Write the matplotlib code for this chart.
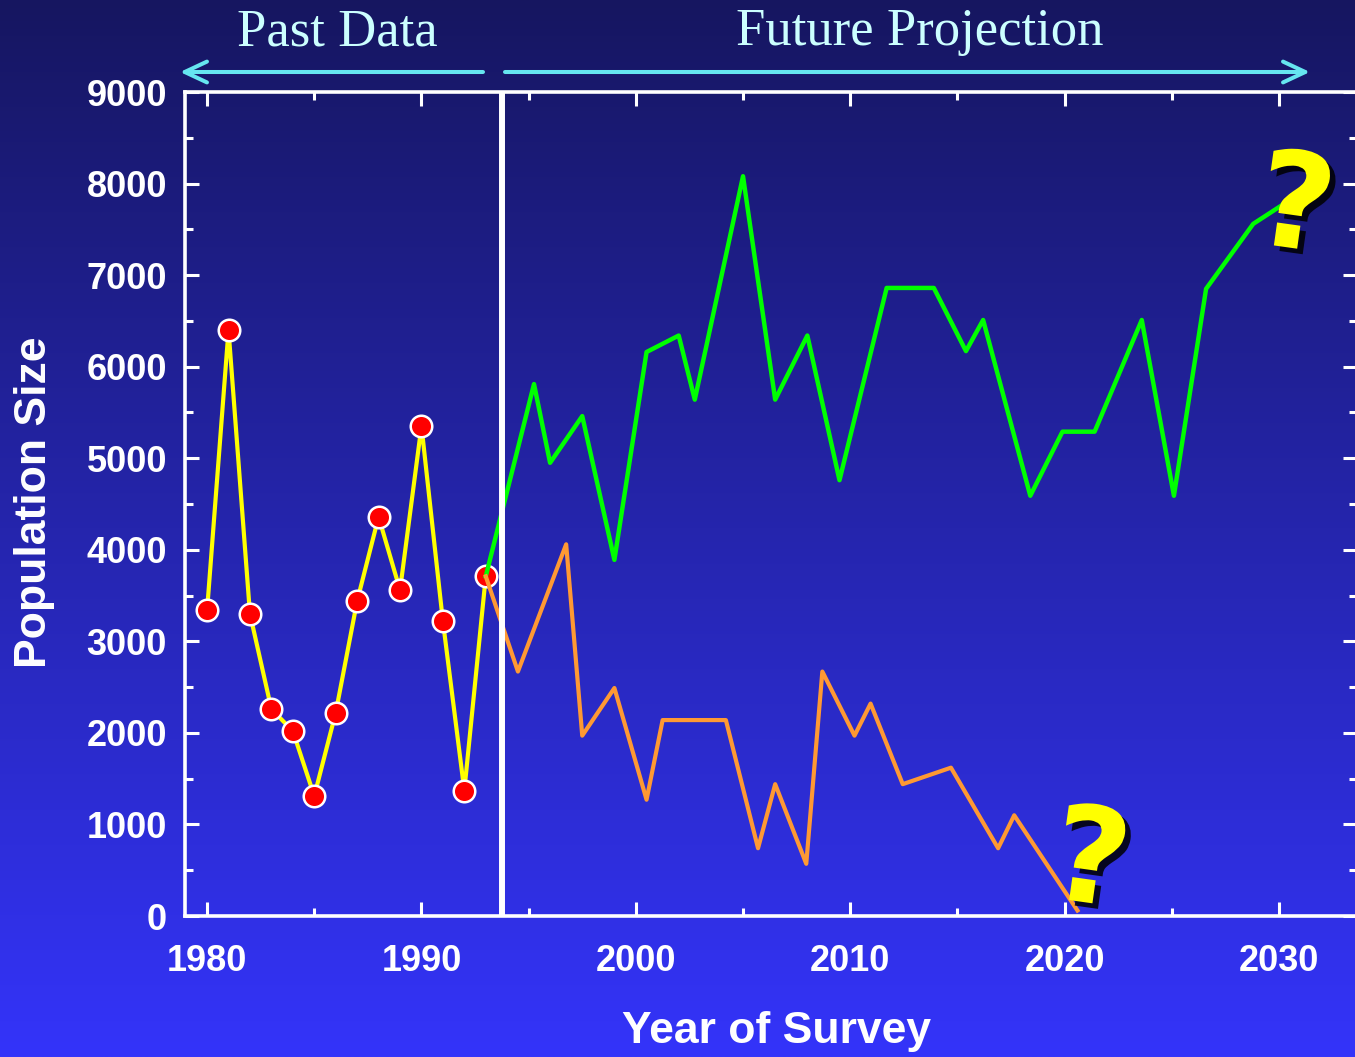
import numpy as np
import matplotlib
matplotlib.use("Agg")
import matplotlib.pyplot as plt
from matplotlib.patches import FancyArrowPatch
from matplotlib.ticker import MultipleLocator
import matplotlib.patheffects as pe

# Survey counts (yellow line with red markers)
past_years = [1980, 1981, 1982, 1983, 1984, 1985, 1986, 1987, 1988, 1989, 1990, 1991, 1992, 1993]
past_values = [3340, 6400, 3300, 2260, 2020, 1310, 2220, 3440, 4360, 3560, 5350, 3220, 1370, 3710]

# Optimistic projection (green)
high_years = [1993, 1995.25, 1996, 1997.5, 1999, 2000.5, 2002, 2002.75, 2005, 2006.5,
              2008, 2009.5, 2011.7, 2013.9, 2015.4, 2016.2, 2018.4, 2019.9, 2021.4,
              2023.6, 2025.1, 2026.6, 2028.8, 2031.1]
high_values = [3710, 5810, 4950, 5460, 3890, 6160, 6340, 5640, 8080, 5640,
               6340, 4760, 6860, 6860, 6170, 6510, 4590, 5290, 5290,
               6510, 4590, 6850, 7560, 7910]

# Pessimistic projection (orange)
low_years = [1993, 1994.5, 1996.75, 1997.5, 1999, 2000.5, 2001.25, 2004.2, 2005.7, 2006.5,
             2007.95, 2008.7, 2010.2, 2010.95, 2012.45, 2014.7, 2016.9, 2017.65, 2020.6]
low_values = [3710, 2670, 4060, 1970, 2490, 1270, 2140, 2140, 740, 1440,
              570, 2670, 1970, 2320, 1440, 1620, 740, 1100, 60]

x_ticks = [1980, 1990, 2000, 2010, 2020, 2030]
y_ticks = [0, 1000, 2000, 3000, 4000, 5000, 6000, 7000, 8000, 9000]
divider_year = 1993.76

W, H = 1355, 1057
fig = plt.figure(figsize=(W / 100, H / 100), dpi=100)

# vertical gradient backdrop
bg = fig.add_axes([0, 0, 1, 1])
bg.set_axis_off()
top = np.array([22, 22, 96]) / 255
bottom = np.array([52, 52, 250]) / 255
t = np.linspace(0, 1, 512)[:, None]
grad = top * (1 - t) + bottom * t
bg.imshow(grad[:, None, :].repeat(2, axis=1), aspect="auto", extent=[0, 1, 0, 1])
bg.set_xlim(0, 1)
bg.set_ylim(0, 1)

ax = fig.add_axes([185 / W, 1 - 916 / H, (1357 - 185) / W, (916 - 92) / H])
ax.set_facecolor("none")
ax.set_xlim(1978.97, 2033.64)
ax.set_ylim(0, 9000)

ax.plot(past_years, past_values, color="#FFFF00", lw=3, zorder=3)
ax.plot(past_years, past_values, ls="none", marker="o", ms=15.5, mfc="#FF0000",
        mec="white", mew=1.8, zorder=4)
ax.plot(high_years, high_values, color="#00FF00", lw=3.2, zorder=5)
ax.plot(low_years, low_values, color="#FF9933", lw=3, zorder=5)
ax.axvline(divider_year, color="white", lw=4.3, zorder=6)

for s in ax.spines.values():
    s.set_color("white")
    s.set_linewidth(2.6)

ax.set_xticks(x_ticks)
ax.set_yticks(y_ticks)
ax.xaxis.set_minor_locator(MultipleLocator(5))
ax.yaxis.set_minor_locator(MultipleLocator(500))
ax.tick_params(which="both", direction="in", colors="white", width=2.2,
               top=True, right=True)
ax.tick_params(which="major", length=10)
ax.tick_params(which="minor", length=6)
ax.tick_params(axis="x", which="major", pad=20)
ax.tick_params(axis="y", which="major", pad=13)
for lab in ax.get_xticklabels() + ax.get_yticklabels():
    lab.set_fontfamily("Liberation Sans")
    lab.set_fontweight("bold")
    lab.set_fontsize(26)
    lab.set_color("white")

fig.text(777 / W, 1 - 1043 / H, "Year of Survey", ha="center", va="baseline",
         fontsize=32, fontweight="bold", family="Liberation Sans", color="white")
fig.text(35 / W, 1 - 502 / H, "Population Size", ha="center", va="center",
         rotation=90, fontsize=32, fontweight="bold", family="Liberation Sans",
         color="white")

# section headings with arrows
head_col = "#CCFFFF"
arrow_col = "#66E6F0"
fig.text(337 / W, 1 - 45 / H, "Past Data", ha="center", va="baseline",
         fontsize=38, family="Liberation Serif", color=head_col)
fig.text(920 / W, 1 - 45 / H, "Future Projection", ha="center", va="baseline",
         fontsize=38, family="Liberation Serif", color=head_col)
for x0, x1 in [(483, 180), (505, 1310)]:
    arr = FancyArrowPatch((x0 / W, 1 - 72 / H), (x1 / W, 1 - 72 / H),
                          transform=fig.transFigure,
                          arrowstyle="->,head_length=1.6,head_width=0.75",
                          mutation_scale=10, color=arrow_col, lw=2.9,
                          shrinkA=0, shrinkB=0)
    fig.add_artist(arr)

# question marks at the ends of the projections
shadow = [pe.SimplePatchShadow(offset=(4, -4), shadow_rgbFace="black", alpha=0.85),
          pe.Normal()]
for qx, qy in [(2030.5, 7300), (2020.95, 150)]:
    ax.text(qx, qy, "?", ha="center", va="baseline", rotation=-8,
            rotation_mode="anchor", fontsize=96, fontweight="bold",
            family="DejaVu Sans", color="#FFFF00", zorder=7, path_effects=shadow,
            clip_on=False)

fig.savefig("out.png", dpi=100)
